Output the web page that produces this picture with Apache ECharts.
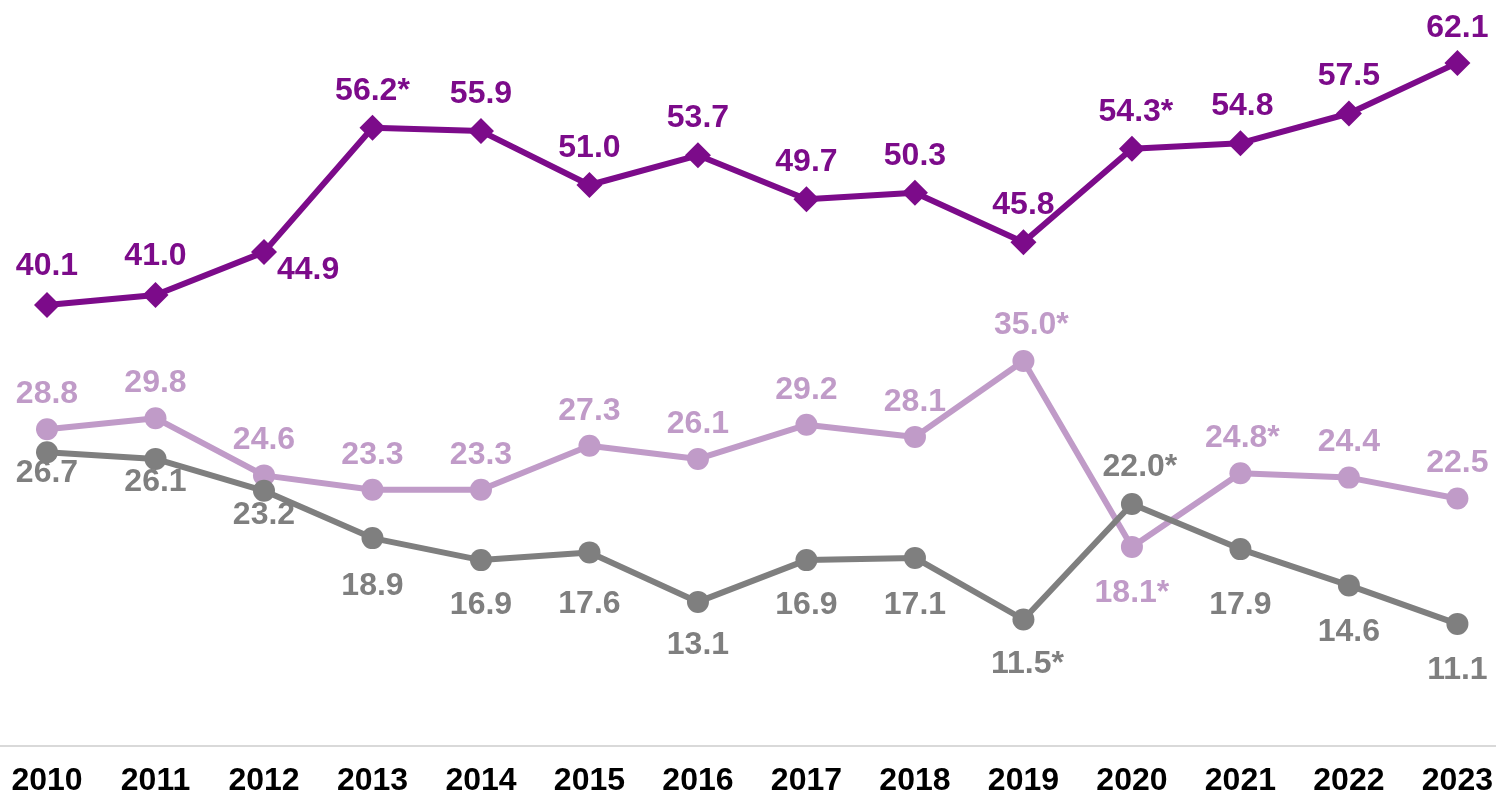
<!DOCTYPE html>
<html>
<head>
<meta charset="utf-8">
<script src="https://cdn.jsdelivr.net/npm/echarts@6/dist/echarts.min.js"></script>
<style>
html,body{margin:0;padding:0;background:#fff;}
#c{width:1496px;height:804px;}
</style>
</head>
<body>
<div id="c"></div>
<script>
// ---- data ----
var years = ['2010','2011','2012','2013','2014','2015','2016','2017','2018','2019','2020','2021','2022','2023'];
var purpleValues = [40.1, 41.0, 44.9, 56.2, 55.9, 51.0, 53.7, 49.7, 50.3, 45.8, 54.3, 54.8, 57.5, 62.1];
var purpleStars  = ['2013', '2020'];
var lilacValues  = [28.8, 29.8, 24.6, 23.3, 23.3, 27.3, 26.1, 29.2, 28.1, 35.0, 18.1, 24.8, 24.4, 22.5];
var lilacStars   = ['2019', '2020', '2021'];
var greyValues   = [26.7, 26.1, 23.2, 18.9, 16.9, 17.6, 13.1, 16.9, 17.1, 11.5, 22.0, 17.9, 14.6, 11.1];
var greyStars    = ['2019', '2020'];

// ---- label placement (style, not data) ----
var purpleLabelPos = ['top','top','right','top','top','top','top','top','top','top','top','top','top','top'];
var lilacLabelPos  = ['top','top','top','top','top','top','top','top','top','top','bottom','top','top','top'];
var greyLabelPos   = ['bottom','bottom','bottom','bottom','bottom','bottom','bottom','bottom','bottom','bottom','top','bottom','bottom','bottom'];
var purpleLabelDist = [10,10,0,8,8,8,8,8,8,8,8,8,8,6];
var lilacLabelDist  = [8,8,8,8,8,8,8,8,8,9,19,8,8,8];
var greyLabelDist   = [-6,-4,-3,21,18,25,16,18,20,18,10,29,20,19];

var C_PURPLE = '#7c0b8a', C_LILAC = '#c09bc8', C_GREY = '#7f7f7f';
var FONT = 'Liberation Sans, Arial, sans-serif';

function build(values, stars, pos, color, dist, extra) {
  return values.map(function (v, i) {
    var star = stars.indexOf(years[i]) >= 0 ? '*' : '';
    var lbl = {
      show: true,
      position: pos[i],
      distance: dist[i],
      formatter: v.toFixed(1) + star,
      color: color,
      fontSize: 32,
      fontWeight: 'bold',
      fontFamily: FONT
    };
    if (extra && extra[i]) Object.assign(lbl, extra[i]);
    return { value: v, label: lbl };
  });
}

var purpleExtra = {2: {offset: [0, 18]}, 10: {offset: [4, 0]}, 11: {offset: [2, 0]}};
var lilacExtra = {9: {offset: [8, 0]}, 11: {offset: [2, 0]}};
var greyExtra = {9: {offset: [4, 0]}, 10: {offset: [8, 0]}};

var chart = echarts.init(document.getElementById('c'), null, {renderer: 'canvas'});
chart.setOption({
  animation: false,
  backgroundColor: '#fff',
  grid: [
    {left: 47, right: 36, top: 31, bottom: 58, containLabel: false},
    {left: 0, right: 0, top: 31, bottom: 58, containLabel: false}
  ],
  xAxis: [
    {
      type: 'category', gridIndex: 0,
      data: years,
      boundaryGap: false,
      axisLine: {show: false},
      axisTick: {show: false},
      axisLabel: {color: '#000', fontSize: 32, fontWeight: 'bold', fontFamily: FONT, margin: 19, interval: 0}
    },
    {
      type: 'category', gridIndex: 1,
      data: years,
      axisLine: {show: true, lineStyle: {color: '#d9d9d9', width: 2}},
      axisTick: {show: false},
      axisLabel: {show: false}
    }
  ],
  yAxis: [
    {type: 'value', gridIndex: 0, min: 0, max: 65, show: false, splitLine: {show: false}},
    {type: 'value', gridIndex: 1, min: 0, max: 65, show: false, splitLine: {show: false}}
  ],
  series: [
    {
      type: 'line', name: 'lilac',
      data: build(lilacValues, lilacStars, lilacLabelPos, C_LILAC, lilacLabelDist, lilacExtra),
      symbol: 'circle', symbolSize: 22,
      lineStyle: {color: C_LILAC, width: 6},
      itemStyle: {color: C_LILAC},
      z: 2
    },
    {
      type: 'line', name: 'grey',
      data: build(greyValues, greyStars, greyLabelPos, C_GREY, greyLabelDist, greyExtra),
      symbol: 'circle', symbolSize: 22,
      lineStyle: {color: C_GREY, width: 6},
      itemStyle: {color: C_GREY},
      z: 3
    },
    {
      type: 'line', name: 'purple',
      data: build(purpleValues, purpleStars, purpleLabelPos, C_PURPLE, purpleLabelDist, purpleExtra),
      symbol: 'diamond', symbolSize: 26,
      lineStyle: {color: C_PURPLE, width: 6},
      itemStyle: {color: C_PURPLE},
      z: 4
    }
  ]
});
</script>
</body>
</html>
